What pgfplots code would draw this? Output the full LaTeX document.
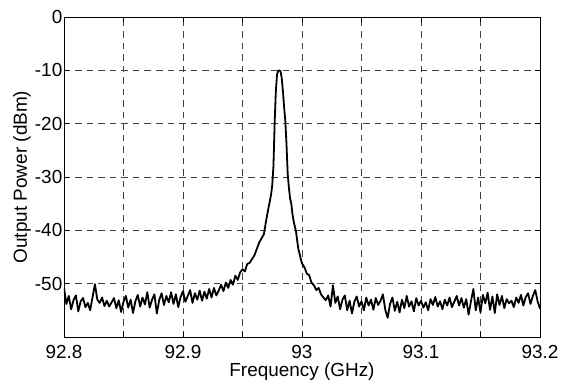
\documentclass[border=0pt]{standalone}
\usepackage{pgfplots}
\pgfplotsset{compat=1.18}
\usepackage{pgfplotstable}
\usepackage{fontspec}
\setmainfont{Liberation Sans}
\pgfplotstableread{
f p
92.800 -50.8
92.802 -53.8
92.804 -52.3
92.806 -54.8
92.808 -53.1
92.810 -52.2
92.812 -55.2
92.814 -53.3
92.816 -52.7
92.818 -54.4
92.820 -53.6
92.822 -55.0
92.824 -52.5
92.826 -50.1
92.828 -53.0
92.830 -53.6
92.832 -52.6
92.834 -54.2
92.836 -53.2
92.838 -54.3
92.840 -53.5
92.842 -52.7
92.844 -54.6
92.846 -53.1
92.848 -55.3
92.850 -53.4
92.852 -52.3
92.854 -54.5
92.856 -53.0
92.858 -55.5
92.860 -53.3
92.862 -52.1
92.864 -54.3
92.866 -52.6
92.868 -53.9
92.870 -51.6
92.872 -54.5
92.874 -53.0
92.876 -52.0
92.878 -55.6
92.880 -53.1
92.882 -51.8
92.884 -54.0
92.886 -52.3
92.888 -53.5
92.890 -51.6
92.892 -53.8
92.894 -52.0
92.896 -54.4
92.898 -52.5
92.900 -51.4
92.902 -53.4
92.904 -52.3
92.906 -51.2
92.908 -53.6
92.910 -51.8
92.912 -53.0
92.914 -51.3
92.916 -53.2
92.918 -51.5
92.920 -52.8
92.922 -51.0
92.924 -52.6
92.926 -50.8
92.928 -52.2
92.930 -51.3
92.932 -50.2
92.934 -51.4
92.936 -49.8
92.938 -50.8
92.940 -49.3
92.942 -50.2
92.944 -48.5
92.946 -49.3
92.948 -47.9
92.950 -47.3
92.952 -47.7
92.954 -46.3
92.956 -46.1
92.958 -45.4
92.960 -44.7
92.962 -43.5
92.964 -42.3
92.966 -41.5
92.968 -40.7
92.970 -38.0
92.971 -36.8
92.972 -35.6
92.973 -34.5
92.974 -33.3
92.975 -31.5
92.976 -28.0
92.977 -20.0
92.978 -14.0
92.979 -10.8
92.980 -10.1
92.981 -10.0
92.982 -10.2
92.983 -11.5
92.984 -14.0
92.985 -17.0
92.986 -19.5
92.987 -24.0
92.988 -29.5
92.989 -32.0
92.990 -34.0
92.991 -35.0
92.992 -37.0
92.993 -38.3
92.994 -39.3
92.995 -40.3
92.996 -42.0
92.997 -43.6
92.998 -44.4
92.999 -45.4
93.000 -46.2
93.002 -46.9
93.004 -48.1
93.006 -48.4
93.008 -49.8
93.010 -50.3
93.012 -51.2
93.014 -50.8
93.016 -52.0
93.018 -52.6
93.020 -53.1
93.022 -52.2
93.024 -54.3
93.026 -50.3
93.028 -53.6
93.030 -52.4
93.032 -54.8
93.034 -53.0
93.036 -52.2
93.038 -55.0
93.040 -53.2
93.042 -55.6
93.044 -53.4
93.046 -52.4
93.048 -54.3
93.050 -53.3
93.052 -55.0
93.054 -52.6
93.056 -54.1
93.058 -53.0
93.060 -54.9
93.062 -52.7
93.064 -54.0
93.066 -53.2
93.068 -52.0
93.070 -54.9
93.072 -56.4
93.074 -53.8
93.076 -52.6
93.078 -55.1
93.080 -53.4
93.082 -55.4
93.084 -53.0
93.086 -54.6
93.088 -52.3
93.090 -54.3
93.092 -53.3
93.094 -55.2
93.096 -52.7
93.098 -54.1
93.100 -53.2
93.102 -54.5
93.104 -53.5
93.106 -55.0
93.108 -52.9
93.110 -54.0
93.112 -52.5
93.114 -54.3
93.116 -53.3
93.118 -54.8
93.120 -53.0
93.122 -54.1
93.124 -52.6
93.126 -54.4
93.128 -53.4
93.130 -52.3
93.132 -54.1
93.134 -52.7
93.136 -54.5
93.138 -52.9
93.140 -55.8
93.142 -53.3
93.144 -51.0
93.146 -55.0
93.148 -52.6
93.150 -55.4
93.152 -52.1
93.154 -53.7
93.156 -51.7
93.158 -54.9
93.160 -52.4
93.162 -55.5
93.164 -52.0
93.166 -54.0
93.168 -52.3
93.170 -54.6
93.172 -52.9
93.174 -53.7
93.176 -53.2
93.178 -54.4
93.180 -52.6
93.182 -53.6
93.184 -52.1
93.186 -54.1
93.188 -52.5
93.190 -51.8
93.192 -53.8
93.194 -52.3
93.196 -51.2
93.198 -53.3
93.200 -54.7
}\spectrum
\begin{document}
\begin{tikzpicture}
\begin{axis}[
  at={(0,0)}, anchor=south west,
  scale only axis, width=476bp, height=320bp,
  xmin=92.8, xmax=93.2, ymin=-60, ymax=0,
  xtick={92.8,92.85,92.9,92.95,93,93.05,93.1,93.15,93.2},
  xticklabels={92.8,,92.9,,93,,93.1,,93.2},
  ytick={-50,-40,-30,-20,-10,0},
  yticklabels={-50,-40,-30,-20,-10,0},
  tick align=inside, major tick length=5bp,
  tick style={black, line width=0.6bp},
  axis line style={black, line width=0.9bp},
  grid=major,
  major grid style={black!75, line width=0.6bp, dash pattern=on 6.5bp off 5bp},
  font=\fontsize{19}{21}\selectfont,
  /pgf/number format/assume math mode=true,
  xticklabel style={anchor=base, yshift=-21bp, inner sep=0pt},
  yticklabel style={anchor=east, inner sep=1.5bp},
  xlabel={Frequency (GHz)},
  ylabel={Output Power (dBm)},
  xlabel style={at={(axis description cs:0.5,0)}, anchor=base, yshift=-39.5bp, inner sep=0pt},
  ylabel style={at={(axis description cs:0,0.5)}, anchor=base, yshift=37bp, inner sep=0pt},
]
\addplot[black, line width=1.8bp, line join=round] table[x=f, y=p] {\spectrum};
\end{axis}
\pgfresetboundingbox
\path[use as bounding box] (-64bp,-44bp) rectangle (498bp,337bp);
\end{tikzpicture}
\end{document}
